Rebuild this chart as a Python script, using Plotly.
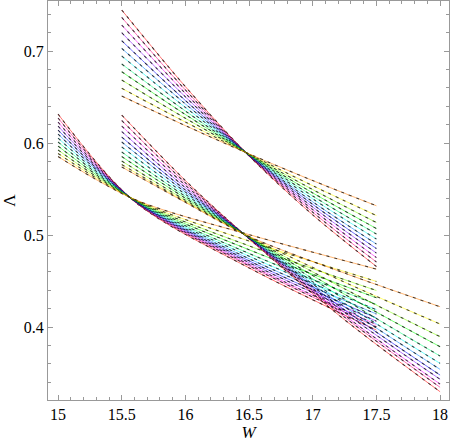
import colorsys
import plotly.graph_objects as go

# family A: W from 15 to 17.5
w_a = [15.0, 15.6, 16.5, 17.5]
lam_a = [
    [0.6315, 0.5365, 0.4643, 0.3967],
    [0.6272, 0.5368, 0.4665, 0.4002],
    [0.6228, 0.5370, 0.4680, 0.4027],
    [0.6185, 0.5372, 0.4700, 0.4064],
    [0.6141, 0.5374, 0.4720, 0.4098],
    [0.6098, 0.5376, 0.4743, 0.4142],
    [0.6054, 0.5378, 0.4770, 0.4189],
    [0.6011, 0.5380, 0.4800, 0.4246],
    [0.5967, 0.5382, 0.4840, 0.4318],
    [0.5924, 0.5384, 0.4882, 0.4397],
    [0.5886, 0.5386, 0.4935, 0.4496],
    [0.5853, 0.5388, 0.5005, 0.4630],
]

# family B: W from 15.5 to 18
w_b = [15.5, 16.0, 16.5, 17.25, 18.0]
lam_b = [
    [0.6304, 0.5592, 0.4960, 0.4079, 0.3297],
    [0.6245, 0.5567, 0.4962, 0.4107, 0.3345],
    [0.6185, 0.5541, 0.4964, 0.4128, 0.3380],
    [0.6125, 0.5515, 0.4967, 0.4159, 0.3432],
    [0.6065, 0.5489, 0.4969, 0.4186, 0.3478],
    [0.6011, 0.5466, 0.4971, 0.4221, 0.3540],
    [0.5957, 0.5443, 0.4973, 0.4257, 0.3605],
    [0.5902, 0.5420, 0.4976, 0.4302, 0.3685],
    [0.5853, 0.5400, 0.4978, 0.4356, 0.3786],
    [0.5804, 0.5379, 0.4980, 0.4415, 0.3895],
    [0.5766, 0.5364, 0.4982, 0.4488, 0.4033],
    [0.5740, 0.5355, 0.4985, 0.4586, 0.4221],
]

# family C: W from 15.5 to 17.5
w_c = [15.5, 16.0, 16.5, 17.0, 17.5]
lam_c = [
    [0.7446, 0.6613, 0.5860, 0.5219, 0.4658],
    [0.7366, 0.6577, 0.5862, 0.5248, 0.4707],
    [0.7283, 0.6540, 0.5864, 0.5276, 0.4755],
    [0.7199, 0.6502, 0.5866, 0.5304, 0.4804],
    [0.7112, 0.6462, 0.5868, 0.5333, 0.4853],
    [0.7029, 0.6425, 0.5870, 0.5361, 0.4902],
    [0.6946, 0.6387, 0.5872, 0.5393, 0.4957],
    [0.6859, 0.6348, 0.5874, 0.5424, 0.5011],
    [0.6775, 0.6310, 0.5876, 0.5458, 0.5071],
    [0.6685, 0.6269, 0.5878, 0.5494, 0.5136],
    [0.6595, 0.6228, 0.5880, 0.5536, 0.5212],
    [0.6511, 0.6189, 0.5882, 0.5592, 0.5318],
]

serif = "Liberation Serif, Times New Roman, serif"


def hue_color(i, n):
    # red at the top line, running back through magenta, blue, green to orange
    h = 1.0 - i * 0.92 / (n - 1)
    r, g, b = colorsys.hsv_to_rgb(h % 1.0, 1.0, 1.0)
    return "rgba(%d,%d,%d,0.55)" % (r * 255, g * 255, b * 255)


fig = go.Figure()

for w, fam in [(w_a, lam_a), (w_b, lam_b), (w_c, lam_c)]:
    n = len(fam)
    for i, ys in enumerate(fam):
        fig.add_trace(go.Scatter(
            x=w, y=ys, mode="lines",
            line=dict(color=hue_color(i, n), width=1, shape="spline", smoothing=0.9),
            showlegend=False, hoverinfo="skip",
        ))
        fig.add_trace(go.Scatter(
            x=w, y=ys, mode="lines",
            line=dict(color="rgba(0,0,0,0.7)", width=1.1, dash="3px,5px",
                      shape="spline", smoothing=0.9),
            showlegend=False, hoverinfo="skip",
        ))

axis_style = dict(
    showline=True, linecolor="#999999", linewidth=1, mirror="allticks",
    ticks="inside", ticklen=5, tickcolor="#999999", tickwidth=1,
    showgrid=False, zeroline=False, automargin=False,
    tickfont=dict(family=serif, size=16, color="black"),
)

fig.update_xaxes(
    range=[14.921, 18.07], tickvals=[15, 15.5, 16, 16.5, 17, 17.5, 18],
    ticktext=["15", "15.5", "16", "16.5", "17", "17.5", "18"],
    minor=dict(dtick=0.1, tick0=15, ticklen=3, ticks="inside", tickcolor="#999999"),
    title=dict(text="<i>W</i>", font=dict(family=serif, size=17, color="black"), standoff=2),
    **axis_style,
)
fig.update_yaxes(
    range=[0.3207, 0.7544], tickvals=[0.4, 0.5, 0.6, 0.7],
    ticktext=["0.4", "0.5", "0.6", "0.7"],
    minor=dict(dtick=0.02, tick0=0.3, ticklen=3, ticks="inside", tickcolor="#999999"),
    title=dict(text="Λ", font=dict(family=serif, size=17, color="black"), standoff=4),
    **axis_style,
)

fig.update_layout(
    width=450, height=444,
    margin=dict(l=48, r=1, t=1, b=44),
    plot_bgcolor="white", paper_bgcolor="white",
)

# drop the page's default body margin so the figure sits at the window corner
fig.write_html("out.html", config={"displayModeBar": False},
               post_script="document.body.style.margin='0';")
